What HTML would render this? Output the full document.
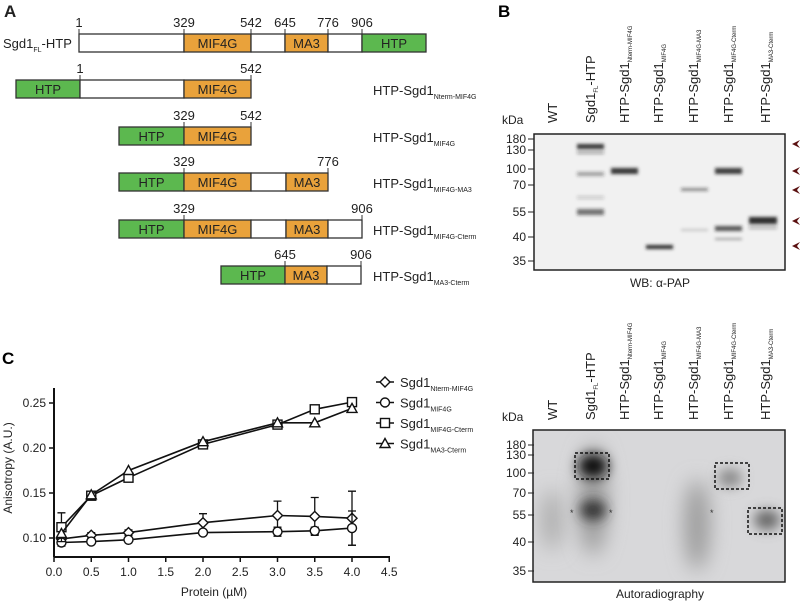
<!DOCTYPE html>
<html><head><meta charset="utf-8"><style>
body{margin:0;background:#fff;}
svg{display:block;font-family:"Liberation Sans",Arial,sans-serif;}
</style></head><body>
<svg id="fig" width="800" height="601" viewBox="0 0 800 601">
<defs>
<filter id="b2" x="-50%" y="-200%" width="200%" height="500%"><feGaussianBlur stdDeviation="1.5"/></filter>
<filter id="b6" x="-100%" y="-100%" width="300%" height="300%"><feGaussianBlur stdDeviation="6"/></filter>
<filter id="b10" x="-150%" y="-100%" width="400%" height="300%"><feGaussianBlur stdDeviation="10"/></filter>
<clipPath id="gelclip"><rect x="533" y="430" width="252" height="152"/></clipPath>
</defs>
<g id="panelA" font-size="13" fill="#222">
<text x="4" y="17" font-size="17" font-weight="bold">A</text>
</g>
<g>
<text x="498" y="17" font-size="17" font-weight="bold">B</text>
<rect x="534" y="134" width="251" height="136" fill="#f1f1f1" stroke="#222" stroke-width="1.5"/>
<g filter="url(#b2)" fill="#222">
<rect x="577" y="144" width="27" height="5" opacity="0.9"/>
<rect x="577" y="151" width="27" height="3" opacity="0.35"/>
<rect x="577" y="172" width="27" height="4" opacity="0.4"/>
<rect x="577" y="196" width="27" height="3" opacity="0.2"/>
<rect x="577" y="209" width="27" height="6" opacity="0.6"/>
<rect x="611" y="168" width="27" height="6" opacity="0.9"/>
<rect x="646" y="245" width="27" height="4" opacity="0.95"/>
<rect x="681" y="188" width="27" height="3" opacity="0.5"/>
<rect x="681" y="229" width="27" height="2" opacity="0.2"/>
<rect x="715" y="168" width="27" height="6" opacity="0.85"/>
<rect x="715" y="226" width="27" height="5" opacity="0.75"/>
<rect x="715" y="238" width="27" height="2" opacity="0.35"/>
<rect x="749" y="217" width="28" height="7" opacity="0.95"/>
<rect x="749" y="226" width="28" height="3" opacity="0.3"/>
</g>
<g fill="#5a1010">
<path d="M792 144 L800 140 L797 144 L800 148Z"/><path d="M792 171 L800 167 L797 171 L800 175Z"/><path d="M792 190 L800 186 L797 190 L800 194Z"/><path d="M792 221 L800 217 L797 221 L800 225Z"/><path d="M792 246 L800 242 L797 246 L800 250Z"/>
</g>
<text x="660" y="287" font-size="12" text-anchor="middle" fill="#222">WB: α-PAP</text>
</g>
<g>
<rect x="533" y="430" width="252" height="152" fill="#d8d8da"/>
<g clip-path="url(#gelclip)">
<ellipse cx="552" cy="520" rx="10" ry="30" fill="#aaa" filter="url(#b10)"/>
<ellipse cx="593" cy="500" rx="14" ry="55" fill="#999" filter="url(#b10)"/>
<ellipse cx="593" cy="466" rx="15" ry="12" fill="#111" filter="url(#b6)"/>
<ellipse cx="593" cy="510" rx="13" ry="10" fill="#333" filter="url(#b6)"/>
<ellipse cx="697" cy="525" rx="12" ry="45" fill="#999" filter="url(#b10)"/>
<ellipse cx="730" cy="478" rx="12" ry="9" fill="#888" filter="url(#b6)"/>
<ellipse cx="767" cy="520" rx="13" ry="10" fill="#666" filter="url(#b6)"/>
</g>
<rect x="533" y="430" width="252" height="152" fill="none" stroke="#222" stroke-width="1.5"/>
<g fill="none" stroke="#111" stroke-width="1.5" stroke-dasharray="3,2">
<rect x="575" y="453" width="34" height="26"/><rect x="715" y="463" width="34" height="26"/><rect x="748" y="508" width="34" height="26"/>
</g>
<g font-size="9" fill="#333"><text x="570" y="516">*</text><text x="609" y="516">*</text><text x="710" y="516">*</text></g>
<text x="660" y="598" font-size="12" text-anchor="middle" fill="#222">Autoradiography</text>
</g>
<g id="panelC">
<text x="2" y="364" font-size="17" font-weight="bold">C</text>
</g>
</svg>
<script>
const NS="http://www.w3.org/2000/svg";
const svg=document.getElementById('fig');
function el(t,a,p){const e=document.createElementNS(NS,t);for(const k in a)e.setAttribute(k,a[k]);(p||svg).appendChild(e);return e;}
function txt(x,y,s,a,p){const e=el('text',Object.assign({x:x,y:y},a||{}),p);e.textContent=s;return e;}

const A=document.getElementById('panelA');
const rows=[
 {y:34,segs:[[79,184,'w',''],[184,251,'o','MIF4G'],[251,285,'w',''],[285,328,'o','MA3'],[328,362,'w',''],[362,426,'g','HTP']],nums:[[79,'1'],[184,'329'],[251,'542'],[285,'645'],[328,'776'],[362,'906']],label:null},
 {y:80,segs:[[16,80,'g','HTP'],[80,184,'w',''],[184,251,'o','MIF4G']],nums:[[80,'1'],[251,'542']],label:'Nterm-MIF4G'},
 {y:127,segs:[[119,184,'g','HTP'],[184,251,'o','MIF4G']],nums:[[184,'329'],[251,'542']],label:'MIF4G'},
 {y:173,segs:[[119,184,'g','HTP'],[184,251,'o','MIF4G'],[251,286,'w',''],[286,328,'o','MA3']],nums:[[184,'329'],[328,'776']],label:'MIF4G-MA3'},
 {y:220,segs:[[119,184,'g','HTP'],[184,251,'o','MIF4G'],[251,286,'w',''],[286,328,'o','MA3'],[328,362,'w','']],nums:[[184,'329'],[362,'906']],label:'MIF4G-Cterm'},
 {y:266,segs:[[221,285,'g','HTP'],[285,327,'o','MA3'],[327,361,'w','']],nums:[[285,'645'],[361,'906']],label:'MA3-Cterm'}
];
const col={w:'#fff',o:'#e9a23b',g:'#5cb84f'};
rows.forEach((r,i)=>{
  const g=el('g',{},A);
  
  
  r.segs.forEach(s=>{
    const rc=el('rect',{x:s[0],y:r.y,width:s[1]-s[0],height:18,fill:col[s[2]],stroke:'#333','stroke-width':1.3},g);
    
    
    if(s[3])txt((s[0]+s[1])/2,r.y+14,s[3],{'text-anchor':'middle','font-size':13,fill:'#222'},g);
  });
  r.nums.forEach(n=>{el('line',{x1:n[0],y1:r.y-5,x2:n[0],y2:r.y,stroke:'#333','stroke-width':1},g);txt(n[0],r.y-7,n[1],{'text-anchor':'middle','font-size':13,fill:'#222'},g);});
  if(r.label){const t=txt(373,r.y+15,'HTP-Sgd1',{'font-size':13,fill:'#222'},g);const ts=el('tspan',{'font-size':7,dy:4},t);ts.textContent=r.label;}
  else{const t=txt(3,r.y+14,'Sgd1',{'font-size':13,fill:'#222'},g);const a=el('tspan',{'font-size':7,dy:4},t);a.textContent='FL';const b=el('tspan',{dy:-4},t);b.textContent='-HTP';}
});

const laneX=[552,590,624,658,693,728,765];
const laneLab=[['WT',''],['Sgd1','FL','-HTP'],['HTP-Sgd1','Nterm-MIF4G'],['HTP-Sgd1','MIF4G'],['HTP-Sgd1','MIF4G-MA3'],['HTP-Sgd1','MIF4G-Cterm'],['HTP-Sgd1','MA3-Cterm']];
function gelLabels(baseY,ticks,name){
  laneX.forEach((x,i)=>{
    const L=laneLab[i];
    const t=txt(0,0,L[0],{'font-size':13,fill:'#222',transform:`translate(${x+5},${baseY}) rotate(-90)`});
    
    
    if(L[1]){const a=el('tspan',{'font-size':6,dy:3},t);a.textContent=L[1];}
    if(L[2]){const b=el('tspan',{dy:-3},t);b.textContent=L[2];}
  });
  txt(502,baseY+1,'kDa',{'font-size':12,fill:'#222'});
  ticks.forEach(k=>{el('line',{x1:528,y1:k[1],x2:534,y2:k[1],stroke:'#222'});txt(526,k[1]+4,k[0],{'font-size':12,fill:'#222','text-anchor':'end'});});
}
gelLabels(123,[['180',139],['130',150],['100',169],['70',185],['55',212],['40',237],['35',261]],'western');
gelLabels(420,[['180',445],['130',455],['100',473],['70',493],['55',515],['40',542],['35',571]],'autoradiography');

const xVals=[0.1,0.5,1,2,3,3.5,4];
const yNterm=[0.099,0.103,0.106,0.117,0.125,0.124,0.122];
const eNterm=[0.004,0.003,0.003,0.010,0.016,0.021,0.030];
const yMif4g=[0.095,0.096,0.098,0.106,0.107,0.108,0.111];
const eMif4g=[0.004,0.002,0.002,0.003,0.005,0.004,0.019];
const yMif4gCterm=[0.112,0.147,0.167,0.204,0.226,0.243,0.251];
const eMif4gCterm=[0.016,0.003,0.003,0.003,0.003,0.003,0.003];
const yMa3Cterm=[0.105,0.148,0.175,0.207,0.228,0.228,0.244];
const xTicks=['0.0','0.5','1.0','1.5','2.0','2.5','3.0','3.5','4.0','4.5'];
const yTicks=['0.10','0.15','0.20','0.25'];
const seriesNames=['Nterm-MIF4G','MIF4G','MIF4G-Cterm','MA3-Cterm'];

const sx=v=>54+v*74.5;
const sy=v=>538-(v-0.10)*900;
const C=document.getElementById('panelC');
const ax=el('g',{stroke:'#111','stroke-width':2,fill:'none'},C);


el('line',{x1:54,y1:388,x2:54,y2:557},ax);
el('line',{x1:54,y1:557,x2:390,y2:557},ax);
xTicks.forEach(t=>{const x=sx(parseFloat(t));el('line',{x1:x,y1:557,x2:x,y2:562,stroke:'#111','stroke-width':1.5},C);
  const tt=txt(x,576,t,{'text-anchor':'middle','font-size':12,fill:'#222'},C);
  
  });
yTicks.forEach(t=>{const y=sy(parseFloat(t));el('line',{x1:49,y1:y,x2:54,y2:y,stroke:'#111','stroke-width':1.5},C);
  const tt=txt(46,y+4,t,{'text-anchor':'end','font-size':12,fill:'#222'},C);
  
  });
const xt=txt(214,596,'Protein (µM)',{'text-anchor':'middle','font-size':12,fill:'#222'},C);


const yt=txt(0,0,'Anisotropy (A.U.)',{'text-anchor':'middle','font-size':12,fill:'#222',transform:'translate(12,468) rotate(-90)'},C);



function marker(kind,x,y,p){
  const a={fill:'#fff',stroke:'#111','stroke-width':1.4};
  let m;
  if(kind===0)m=el('path',Object.assign({d:`M${x} ${y-5}L${x+5} ${y}L${x} ${y+5}L${x-5} ${y}Z`},a),p);
  else if(kind===1)m=el('circle',Object.assign({cx:x,cy:y,r:4.5},a),p);
  else if(kind===2)m=el('rect',Object.assign({x:x-4.5,y:y-4.5,width:9,height:9},a),p);
  else m=el('path',Object.assign({d:`M${x} ${y-5}L${x+5} ${y+4}L${x-5} ${y+4}Z`},a),p);
  return m;
}
const allY=[yNterm,yMif4g,yMif4gCterm,yMa3Cterm];
const allE=[eNterm,eMif4g,eMif4gCterm,null];
allY.forEach((ys,k)=>{
  const g=el('g',{},C);
  
  
  const pts=xVals.map((x,i)=>sx(x)+','+sy(ys[i])).join(' ');
  el('polyline',{points:pts,fill:'none',stroke:'#111','stroke-width':1.6},g);
  const es=allE[k];
  if(es)xVals.forEach((x,i)=>{const X=sx(x),y1=sy(ys[i]+es[i]),y2=sy(ys[i]-es[i]);
    el('path',{d:`M${X} ${y1}V${y2}M${X-4} ${y1}H${X+4}M${X-4} ${y2}H${X+4}`,stroke:'#111','stroke-width':1.3,fill:'none'},g);});
  xVals.forEach((x,i)=>{const m=marker(k,sx(x),sy(ys[i]),g);
    
    });
});
seriesNames.forEach((n,k)=>{
  const y=382+k*20.5;
  const g=el('g',{},C);
  
  
  el('line',{x1:376,y1:y,x2:394,y2:y,stroke:'#111','stroke-width':1.6},g);
  marker(k,385,y,g);
  const t=txt(400,y+5,'Sgd1',{'font-size':13,fill:'#222'},g);
  const s=el('tspan',{'font-size':7,dy:4},t);s.textContent=n;
});
</script>
</body></html>
